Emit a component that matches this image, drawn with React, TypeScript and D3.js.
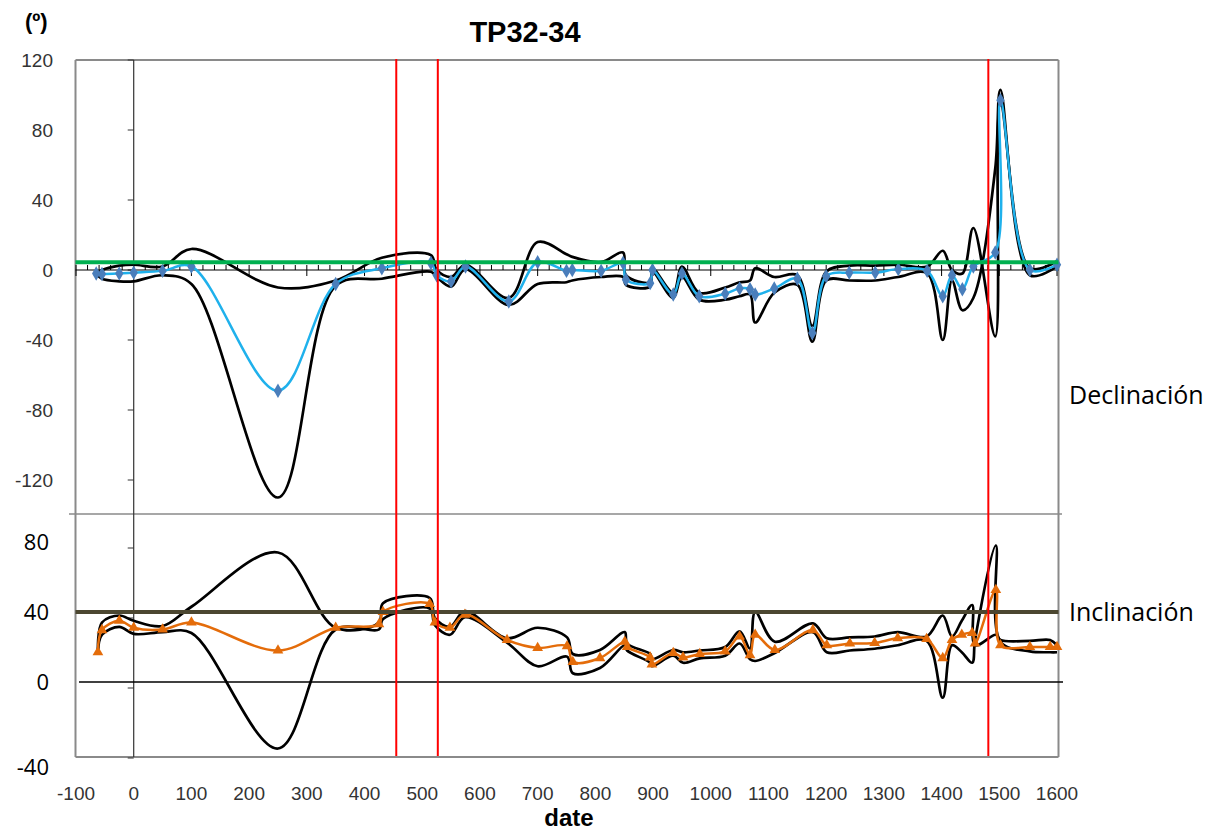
import React from "react";
import * as d3 from "d3";

// ---------- DATA ----------
const decDates = [-65, -55, -25, 0, 50, 100, 250, 350, 430, 515, 525, 550, 575, 650, 700, 750, 760, 810, 848, 853, 895, 899, 935, 950, 980, 1025, 1050, 1068, 1077, 1110, 1150, 1176, 1200, 1240, 1285, 1325, 1375, 1402, 1418, 1436, 1455, 1493, 1502, 1553, 1600];
const decMean = [-2, -2.3, -2, -1.5, -0.5, 2, -69, -8, 1, 4, -3, -6.5, 2, -18, 4.5, -0.5, 0, -0.5, 4, -5.5, -7.5, 0, -14, -2, -15, -13.5, -10.5, -11, -14, -10.5, -5, -36, -3.5, -1.5, -1.5, 0.5, -0.5, -15, -3, -11, 2, 10, 97, 0, 3];
const decUpper = [-2, 0, 2.5, 3, 2, 12, -10, -6, 7, 8.5, 0, -4, 3, -16, 16, 9, 7.5, 4.5, 10, -3, -7, 1, -13, 2, -13, -10, -7, -6, 1, -4, -3, -32, -1, 2.5, 2.5, 3, 2, 11, 0, -2, 24, -38, 95, 1, 5];
const decLower = [-2, -5, -6.5, -6.5, -3, -8, -130, -9, -5, -1, -4, -9.5, 0.5, -20, -8, -7, -6, -4, -4, -8.5, -9.5, -1, -16, -4, -17, -17, -15, -14, -30, -13, -8.5, -41, -6, -6, -6, -4, -2, -40, -6, -23, -16, 58, 103, -3, 2];

const incDates = [-62, -55, -25, 0, 50, 100, 250, 350, 425, 432, 513, 522, 548, 574, 647, 700, 751, 761, 808, 851, 855, 895, 898, 935, 952, 981, 1025, 1050, 1068, 1077, 1111, 1177, 1201, 1241, 1284, 1324, 1374, 1402, 1418, 1435, 1453, 1458, 1494, 1502, 1553, 1588, 1600];
const incMean = [17, 29.7, 35, 31, 30, 34, 18, 31, 33, 40, 44.6, 34, 31, 38.5, 24, 19.5, 20.5, 11.5, 13.7, 23, 20, 14, 10, 16.6, 14, 16, 17.5, 26, 15.4, 27, 18.3, 29.7, 21, 22, 22.3, 25, 24.6, 13.7, 24, 27, 28, 22, 52.6, 21, 20, 20, 20];
const incUpper = [17, 34, 38, 35, 32, 43, 74, 31, 34, 45, 48, 36.5, 31.5, 40.5, 25, 31, 25.5, 16, 18.3, 28.5, 22, 16, 13, 18.3, 17, 18, 20, 29, 19, 40, 23, 33.5, 25, 25.5, 26, 28.5, 26, 38, 26, 35, 44, 21, 27, 24, 23.5, 24, 21];
const incLower = [17, 27, 31.5, 27.5, 28.5, 28, -38, 30, 30, 36, 42, 32.5, 27, 37, 22.5, 9, 14.5, 5, 8, 21, 18, 11, 9, 15, 11, 13.5, 15, 22, 13, 12, 16.6, 28.5, 17, 18, 19, 21, 23.5, -9, 21, 17, 11, 24, 78, 23, 17.5, 17, 17];

const xTicks = [-100, 0, 100, 200, 300, 400, 500, 600, 700, 800, 900, 1000, 1100, 1200, 1300, 1400, 1500, 1600];
const decTicks = [120, 80, 40, 0, -40, -80, -120];
const incTicks = [80, 40, 0, -40];
const redLines = [455, 527, 1481];
const decRef = 4.5;
const incRef = 40;

// ---------- SCALES ----------
const xScale = d3.scaleLinear().domain([-100, 1600]).range([76, 1057]);
const yDec = d3.scaleLinear().domain([-140, 120]).range([515, 60]);
const yInc = d3.scaleLinear().domain([-40, 80]).range([752, 542]);

const PL = 75.5, PR = 1058.5, PT = 60, PM = 514, PB = 757;

function mk(dates: number[], vals: number[]) {
  return dates.map((d, i) => [d, vals[i]] as [number, number]);
}

export default function App() {
  const decLine = d3.line<[number, number]>()
    .x(d => xScale(d[0])).y(d => yDec(d[1]))
    .curve(d3.curveCatmullRom.alpha(0.5));
  const incLine = d3.line<[number, number]>()
    .x(d => xScale(d[0])).y(d => yInc(d[1]))
    .curve(d3.curveCatmullRom.alpha(0.5));
  const diamond = d3.symbol(d3.symbolDiamond, 60)()!;
  const triangle = d3.symbol(d3.symbolTriangle, 50)()!;

  const minorTicks = d3.range(-100, 1601, 20);
  const x0 = xScale(0);
  const font = "'Liberation Sans', Arial, sans-serif";
  const font2 = "'Open Sans', sans-serif";

  return (
    <svg width={1223} height={833} style={{ position: "absolute", left: 0, top: 0, background: "#fff" }}>
      {/* frame */}
      <line x1={PL} x2={PR} y1={PT} y2={PT} stroke="#8a8a8a" strokeWidth={2} />
      <line x1={PL} x2={PL} y1={PT} y2={PB} stroke="#8a8a8a" strokeWidth={2} />
      <line x1={PR} x2={PR} y1={PT} y2={PB} stroke="#8a8a8a" strokeWidth={2} />
      <line x1={PL} x2={PR} y1={PB} y2={PB} stroke="#8a8a8a" strokeWidth={2} />
      <line x1={69} x2={1062} y1={PM} y2={PM} stroke="#8a8a8a" strokeWidth={1.5} />

      {/* vertical axis at x=0 */}
      <line x1={x0} x2={x0} y1={PT} y2={PB} stroke="#333" strokeWidth={1.2} />
      {decTicks.map(v => (
        <line key={"dt" + v} x1={x0 - 6} x2={x0} y1={yDec(v)} y2={yDec(v)} stroke="#333" strokeWidth={1} />
      ))}
      {incTicks.map(v => (
        <line key={"it" + v} x1={x0 - 6} x2={x0} y1={yInc(v) + 6} y2={yInc(v) + 6} stroke="#333" strokeWidth={1} />
      ))}

      {/* horizontal axis in declination panel */}
      <line x1={PL} x2={PR} y1={yDec(0)} y2={yDec(0)} stroke="#000" strokeWidth={1.2} />
      {minorTicks.map(v => (
        <line key={"mt" + v} x1={xScale(v)} x2={xScale(v)} y1={yDec(0) - 5} y2={yDec(0)} stroke="#000" strokeWidth={1} />
      ))}
      {xTicks.map(v => (
        <line key={"Mt" + v} x1={xScale(v)} x2={xScale(v)} y1={yDec(0)} y2={yDec(0) + 6} stroke="#000" strokeWidth={1} />
      ))}

      {/* zero line in inclination panel */}
      <line x1={79} x2={1063} y1={yInc(0)} y2={yInc(0)} stroke="#000" strokeWidth={1.5} />

      {/* declination bounds and mean */}
      <path d={decLine(mk(decDates, decUpper))!} fill="none" stroke="#000" strokeWidth={2.7} />
      <path d={decLine(mk(decDates, decLower))!} fill="none" stroke="#000" strokeWidth={2.7} />
      <path d={decLine(mk(decDates, decMean))!} fill="none" stroke="#1fb1ec" strokeWidth={2.5} />
      {decDates.map((d, i) => (
        <path key={"dm" + i} d={diamond} transform={`translate(${xScale(d)},${yDec(decMean[i])})`} fill="#4a7ebb" />
      ))}

      {/* inclination bounds and mean */}
      <path d={incLine(mk(incDates, incUpper))!} fill="none" stroke="#000" strokeWidth={2.7} />
      <path d={incLine(mk(incDates, incLower))!} fill="none" stroke="#000" strokeWidth={2.7} />
      <path d={incLine(mk(incDates, incMean))!} fill="none" stroke="#e46c0a" strokeWidth={2.5} />
      {incDates.map((d, i) => (
        <path key={"im" + i} d={triangle} transform={`translate(${xScale(d)},${yInc(incMean[i])})`} fill="#e46c0a" />
      ))}

      {/* reference lines */}
      <line x1={PL} x2={PR} y1={yDec(decRef)} y2={yDec(decRef)} stroke="#00b050" strokeWidth={4} />
      <line x1={PL} x2={PR} y1={yInc(incRef)} y2={yInc(incRef)} stroke="#4c4731" strokeWidth={4} />
      {redLines.map(v => (
        <line key={"r" + v} x1={xScale(v)} x2={xScale(v)} y1={PT - 1} y2={PB - 1} stroke="#ff0000" strokeWidth={2} />
      ))}

      {/* tick labels */}
      {decTicks.map(v => (
        <text key={"dl" + v} x={53} y={yDec(v)} dy="0.35em" textAnchor="end" fontFamily={font} fontSize={19} fill="#333">{v}</text>
      ))}
      {incTicks.map(v => (
        <text key={"il" + v} x={49} y={yInc(v) + (v === -40 ? 15 : 0)} dy="0.36em" textAnchor="end" fontFamily={font2} fontSize={22} fill="#000">{v}</text>
      ))}
      {xTicks.map(v => (
        <text key={"xl" + v} x={xScale(v)} y={793} dy="0.35em" textAnchor="middle" fontFamily={font} fontSize={19} fill="#333">{v}</text>
      ))}

      {/* titles */}
      <text x={525} y={42} textAnchor="middle" fontFamily={font} fontWeight="bold" fontSize={29} fill="#000">TP32-34</text>
      <text x={25} y={29} fontFamily={font} fontWeight="bold" fontSize={22} fill="#000">(º)</text>
      <text x={569} y={826} textAnchor="middle" fontFamily={font} fontWeight="bold" fontSize={24} fill="#000">date</text>
      <text x={1069} y={395} dy="0.35em" fontFamily={font2} fontSize={25} fill="#000">Declinación</text>
      <text x={1069} y={612} dy="0.35em" fontFamily={font2} fontSize={25} fill="#000">Inclinación</text>
    </svg>
  );
}
